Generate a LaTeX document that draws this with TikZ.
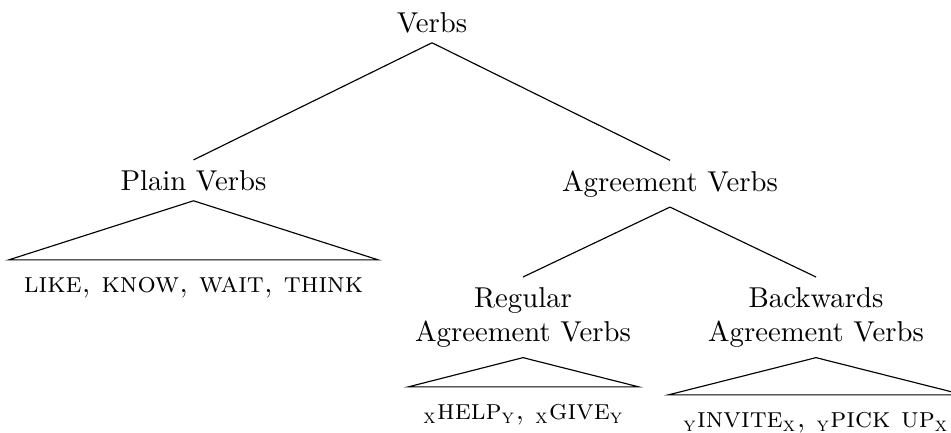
\documentclass[tikz,border=0pt]{standalone}
\usepackage{amsmath}
\usepackage{tikz}
\usetikzlibrary{positioning, calc}

\def\raster{0.348pt}

\tikzset{
    cat/.style={inner sep=3.33pt},
    cattwo/.style={cat, align=center, anchor=north},
    examples/.style={inner xsep=5pt, inner ysep=4pt, text height=7pt, anchor=base}
}

\begin{document}
\begin{tikzpicture}[x=\raster, y=-\raster]
    \useasboundingbox (0,0) rectangle (951,432);

    % categories
    \node[cat, anchor=base] (verbs) at (432,32) {Verbs};
    \node[cat, anchor=base] (plain) at (193.5,190) {Plain Verbs};
    \node[cat, anchor=base] (agree) at (670,191) {Agreement Verbs};
    \node[cattwo] (regular) at (523,277) {Regular\\Agreement Verbs};
    \node[cattwo] (backw) at (816,277) {Backwards\\Agreement Verbs};

    % examples
    \node[examples] (plainex) at (193.5,292) {\textsc{like, know, wait, think}};
    \node[examples] (regex) at (523.5,419) {\textsc{$_{\text{x}}$help$_{\text{y}}$, $_{\text{x}}$give$_{\text{y}}$}};
    \node[examples] (backex) at (816,427) {\textsc{$_{\text{y}}$invite$_{\text{x}}$, $_{\text{y}}$pick up$_{\text{x}}$}};

    % draw branches
    \foreach \from/\to in {verbs/plain, verbs/agree, agree/regular, agree/backw}
    {
        \draw (\from.south) -- (\to.north);
    }

    % draw roofs
    \foreach \top/\ex in {plain/plainex, regular/regex, backw/backex}
    {
        \draw (\top.south) -- (\ex.north west) -- (\ex.north east) -- cycle;
    }
\end{tikzpicture}
\end{document}
